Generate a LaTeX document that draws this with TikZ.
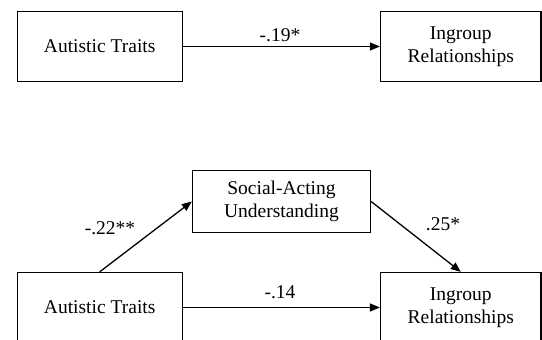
\documentclass[tikz,border=0pt]{standalone}
\usepackage{fontspec}
\setmainfont{Liberation Serif}
\usetikzlibrary{arrows.meta}
\begin{document}
\begin{tikzpicture}[x=1pt, y=-1pt, font=\fontsize{19.5}{23}\selectfont,
		box/.style={draw, line width=1.3pt, align=center, inner sep=0pt, minimum height=70pt},
		link/.style={line width=1.3pt, -{Triangle[length=10pt, width=8pt]}}]
		\clip (0,0) rectangle (542,340);

		\node[box, minimum width=165pt] (traitsA) at (99.7, 46.5) {Autistic Traits};
		\node[box, minimum width=160.5pt] (ingroupA) at (460.8, 46.5) {Ingroup\\Relationships};
		\node (coefA) at (280, 35) {-.19*};

		\node[box, minimum width=178pt, minimum height=62pt] (social) at (281.5, 201.5) {Social-Acting\\Understanding};
		\node[box, minimum width=165pt] (traitsB) at (99.7, 307.5) {Autistic Traits};
		\node[box, minimum width=160.5pt] (ingroupB) at (460.8, 307.5) {Ingroup\\Relationships};
		\node (coefB) at (110, 228) {-.22**};
		\node (coefC) at (443, 224) {.25*};
		\node (coefD) at (280, 292) {-.14};

		\path (traitsA) edge[link] (ingroupA)
		(traitsB.north) edge[link] (social.west)
		(social.east) edge[link] (ingroupB.north)
		(traitsB) edge[link] (ingroupB);
	\end{tikzpicture}
\end{document}
